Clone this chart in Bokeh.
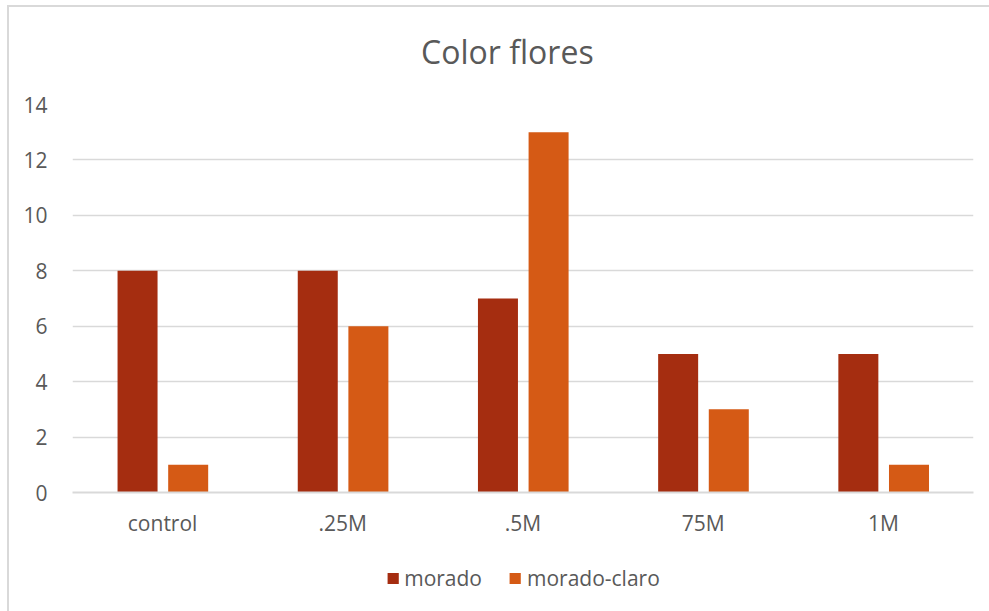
from bokeh.plotting import figure
from bokeh.layouts import column
from bokeh.models import FactorRange, Range1d, Legend, LegendItem, ColumnDataSource, SingleIntervalTicker
from bokeh.core.properties import value
from bokeh.transform import dodge
from bokeh.embed import file_html
from bokeh.resources import INLINE

title_text = "Color flores"
categories = ["control", ".25M", ".5M", "75M", "1M"]
morado = [8, 8, 7, 5, 5]
morado_claro = [1, 6, 13, 3, 1]
series_names = ["morado", "morado-claro"]
series_colors = ["#A52D10", "#D55A15"]

FONT = "Open Sans"
TXT = "#595959"
GRID = "#D9D9D9"


def strip(w, h, **kw):
    # axis-free strip whose data units are pixels
    f = figure(width=w, height=h, x_range=Range1d(0, w), y_range=Range1d(0, h),
               x_axis_location=None, y_axis_location=None,
               output_backend="svg", toolbar_location=None, **kw)
    f.grid.grid_line_color = None
    f.outline_line_color = None
    f.border_fill_color = "white"
    f.background_fill_color = "white"
    return f


# title strip
tf = strip(980, 80, min_border=0)
tf.text(x=[473], y=[36], text=[title_text], text_align="center",
        text_baseline="alphabetic", text_font=value(FONT), text_font_size="32px",
        text_color=TXT)

# main chart
src = ColumnDataSource(dict(cat=categories, morado=morado, claro=morado_claro))
p = figure(
    width=980, height=465,
    x_range=FactorRange(*categories, range_padding=0),
    y_range=Range1d(0, 14),
    output_backend="svg", toolbar_location=None,
    min_border_left=63, min_border_right=16,
    min_border_top=17, min_border_bottom=60,
)
p.outline_line_color = None
p.background_fill_color = "white"
p.border_fill_color = "white"

r1 = p.vbar(x=dodge("cat", -0.139, range=p.x_range), top="morado", width=0.222,
            source=src, fill_color=series_colors[0], line_color=None)
r2 = p.vbar(x=dodge("cat", 0.142, range=p.x_range), top="claro", width=0.222,
            source=src, fill_color=series_colors[1], line_color=None)

p.yaxis.ticker = SingleIntervalTicker(interval=2)
p.yaxis.axis_line_color = None
p.yaxis.major_tick_line_color = None
p.yaxis.minor_tick_line_color = None
p.yaxis.major_label_standoff = 19
p.yaxis.major_label_text_font = FONT
p.yaxis.major_label_text_font_size = "21px"
p.yaxis.major_label_text_color = TXT

p.xaxis.axis_line_color = GRID
p.xaxis.axis_line_width = 2
p.xaxis.major_tick_line_color = None
p.xaxis.minor_tick_line_color = None
p.xaxis.major_label_standoff = 10
p.xaxis.major_label_text_font = FONT
p.xaxis.major_label_text_font_size = "21px"
p.xaxis.major_label_text_color = TXT

p.xgrid.grid_line_color = None
p.ygrid.grid_line_color = GRID
p.ygrid.grid_line_width = 1.5

# legend strip under the chart; zero-size bars carry the swatch styles
lg = strip(980, 59, min_border_left=30, min_border_right=0,
           min_border_top=0, min_border_bottom=8)
swatches = [lg.vbar(x=[0], top=[0], width=0, fill_color=c, line_color=None)
            for c in series_colors]
legend = Legend(
    items=[LegendItem(label=n, renderers=[r]) for n, r in zip(series_names, swatches)],
    orientation="horizontal", location="center",
    glyph_width=14, glyph_height=14, label_height=14,
    label_standoff=5, spacing=26, padding=0, margin=0,
    border_line_color=None, background_fill_alpha=0,
    label_text_font=FONT, label_text_font_size="21px", label_text_color=TXT,
)
lg.add_layout(legend, "center")

layout = column(tf, p, lg, spacing=0)
layout.styles = {"margin-left": "7px", "margin-top": "5px",
                 "border-left": "2px solid #D9D9D9", "border-top": "2px solid #D9D9D9"}

with open("out.html", "w") as f:
    f.write(file_html(layout, INLINE))
